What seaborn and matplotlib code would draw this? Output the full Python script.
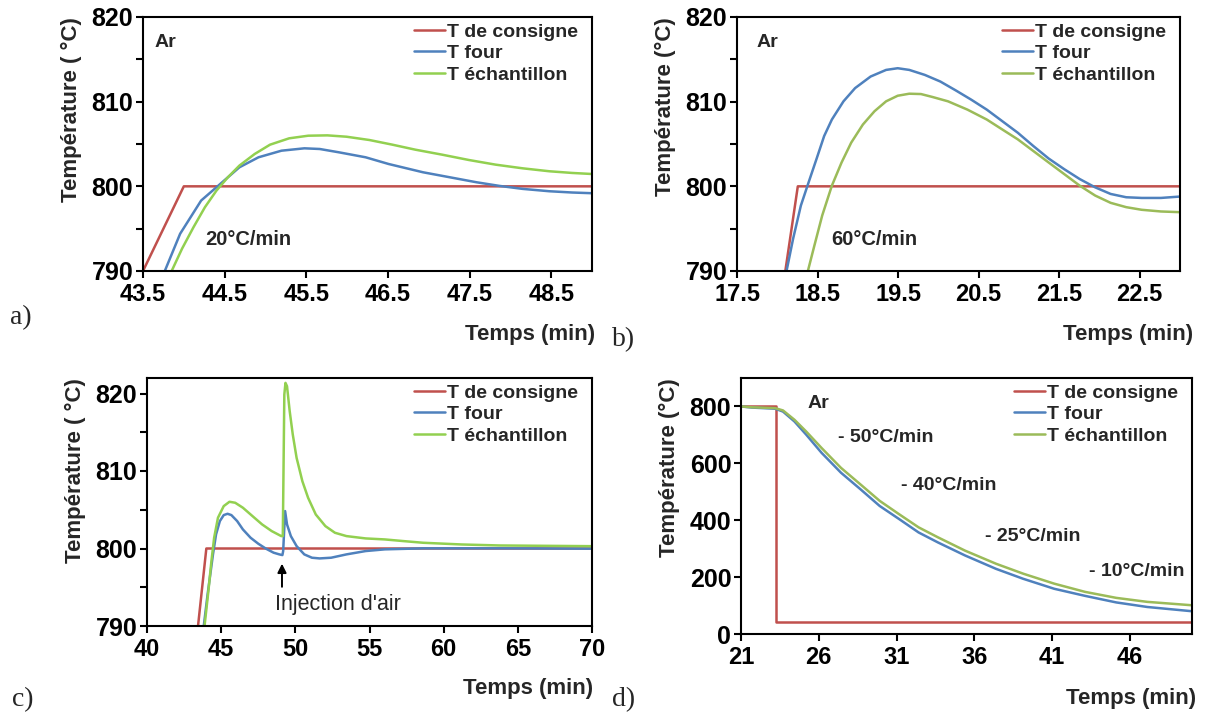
import numpy as np
import pandas as pd
import matplotlib
matplotlib.use("Agg")
import matplotlib.pyplot as plt
import seaborn as sns

# ---- data ----
# panel a : 20 C/min, Ar
a_cons_t = [43.5, 44.0, 49.0]
a_cons_T = [790, 800, 800]
a_four_t = [43.767, 43.955, 44.212, 44.470, 44.681, 44.915, 45.196, 45.477, 45.665, 45.899,
            46.227, 46.508, 46.930, 47.258, 47.586, 47.867, 48.149, 48.477, 48.758, 48.992]
a_four_T = [790, 794.40, 798.32, 800.48, 802.25, 803.43, 804.21, 804.49, 804.41, 804.02,
            803.43, 802.64, 801.66, 801.07, 800.48, 800.05, 799.70, 799.42, 799.27, 799.19]
a_ech_t = [43.851, 43.978, 44.119, 44.259, 44.400, 44.540, 44.681, 44.868, 45.056, 45.290, 45.524,
           45.759, 45.993, 46.274, 46.555, 46.836, 47.164, 47.492, 47.820, 48.149, 48.477, 48.758, 48.992]
a_ech_T = [790, 792.63, 795.18, 797.54, 799.50, 801.07, 802.45, 803.82, 804.92, 805.67, 805.98,
           806.02, 805.86, 805.47, 804.92, 804.33, 803.74, 803.11, 802.56, 802.13, 801.78, 801.58, 801.46]

# panel b : 60 C/min, Ar
b_cons_t = [18.10, 18.255, 23.0]
b_cons_T = [790, 800, 800]
b_four_t = [18.115, 18.197, 18.293, 18.389, 18.486, 18.582, 18.678, 18.822, 18.966, 19.159,
            19.351, 19.495, 19.639, 19.832, 20.024, 20.216, 20.409, 20.601, 20.793, 20.986,
            21.178, 21.370, 21.562, 21.755, 21.947, 22.139, 22.332, 22.524, 22.764, 22.995]
b_four_T = [790, 793.83, 797.73, 800.47, 803.20, 805.94, 807.89, 810.04, 811.60, 812.97,
            813.75, 813.95, 813.75, 813.16, 812.38, 811.33, 810.23, 809.06, 807.70, 806.33,
            804.77, 803.28, 802.03, 800.86, 799.88, 799.10, 798.71, 798.63, 798.63, 798.79]
b_ech_t = [18.380, 18.462, 18.558, 18.678, 18.798, 18.918, 19.063, 19.207, 19.351, 19.495,
           19.639, 19.784, 19.928, 20.120, 20.361, 20.601, 20.793, 20.986, 21.178, 21.370,
           21.562, 21.755, 21.947, 22.139, 22.332, 22.524, 22.764, 22.995]
b_ech_T = [790, 793.05, 796.56, 800.08, 802.81, 805.16, 807.30, 808.87, 810.04, 810.70,
           810.94, 810.90, 810.55, 810.04, 809.06, 807.89, 806.72, 805.55, 804.18, 802.81,
           801.45, 800.08, 798.91, 798.05, 797.54, 797.23, 797.03, 796.95]

# panel c : air injection
c_cons_t = [43.44, 44.0, 70.0]
c_cons_T = [790, 800, 800]
c_four_t = [43.827, 44.086, 44.267, 44.448, 44.655, 44.913, 45.172, 45.431, 45.689, 46.077,
            46.465, 46.982, 47.500, 48.017, 48.534, 48.922, 49.128, 49.180, 49.310, 49.439,
            49.698, 50.085, 50.603, 51.120, 51.637, 52.413, 53.447, 54.740, 56.033, 58.619,
            63.791, 69.997]
c_four_T = [790, 794.08, 796.66, 799.24, 801.82, 803.54, 804.31, 804.48, 804.31, 803.54,
            802.46, 801.39, 800.62, 799.98, 799.46, 799.24, 799.15, 799.67, 804.83, 803.11,
            801.60, 800.31, 799.24, 798.81, 798.72, 798.81, 799.24, 799.67, 799.89, 800.02,
            800.02, 799.98]
c_ech_t = [43.879, 44.138, 44.344, 44.526, 44.784, 45.172, 45.560, 45.948, 46.465, 47.111,
           47.758, 48.405, 49.051, 49.155, 49.258, 49.336, 49.439, 49.620, 49.827, 50.085,
           50.473, 50.861, 51.378, 52.025, 52.671, 53.447, 54.740, 56.033, 57.326, 58.619,
           61.205, 63.791, 69.997]
c_ech_T = [790, 794.51, 798.38, 801.39, 803.97, 805.47, 806.03, 805.90, 805.26, 804.18,
           803.11, 802.25, 801.60, 801.60, 819.87, 821.37, 820.94, 817.72, 814.71, 811.70,
           808.69, 806.54, 804.39, 802.89, 802.03, 801.60, 801.30, 801.17, 800.95, 800.74,
           800.52, 800.39, 800.30]

# panel d : cooling, Ar
d_cons_t = [21.0, 23.24, 23.24, 50.0]
d_cons_T = [800, 800, 43, 43]
d_four_t = [21.0, 21.7, 23.2, 23.7, 24.44, 25.19, 26.18, 27.43, 28.68, 29.92, 31.17, 32.42,
            33.66, 35.41, 37.40, 39.15, 41.14, 43.13, 45.13, 47.12, 50.0]
d_four_T = [800, 796, 792, 782, 747, 701, 637, 567, 509, 450, 404, 357,
            322, 276, 229, 194, 159, 134, 111, 95, 80]
d_ech_t = [21.0, 21.7, 23.2, 23.7, 24.44, 25.19, 26.18, 27.43, 28.68, 29.92, 31.17, 32.42,
           33.66, 35.41, 37.40, 39.15, 41.14, 43.13, 45.13, 47.12, 50.0]
d_ech_T = [800, 797, 794, 786, 753, 712, 654, 584, 526, 468, 421, 375,
           340, 293, 247, 212, 177, 148, 127, 113, 101]

labels = ["T de consigne", "T four", "T échantillon"]
red = "#C0504D"
blue = "#4F81BD"
green_bright = "#92D050"
green_olive = "#9BBB59"

sns.set_style("ticks")
plt.rcParams['font.family'] = ['Liberation Sans', 'DejaVu Sans']
plt.rcParams['font.weight'] = 'bold'

fig = plt.figure(figsize=(12.06, 7.15), dpi=100)
W, H = 1206, 715


def make_ax(l, r, t, b):
    return fig.add_axes([l / W, (H - b) / H, (r - l) / W, (b - t) / H])


def draw(ax, series, green, xlim, ylim, xticks, xticklabels, yticks, yticklabels, ylabel,
         xlab_dx=0.0):
    cols = [red, blue, green]
    for (t, T), c, lab in zip(series, cols, labels):
        sns.lineplot(x=t, y=T, ax=ax, color=c, lw=1.8, sort=False, estimator=None, label=lab)
    ax.set_xlim(*xlim)
    ax.set_ylim(*ylim)
    ax.set_xticks(xticks)
    ax.set_xticklabels(xticklabels, fontsize=17, fontweight='bold')
    ax.set_yticks(yticks)
    ax.set_yticklabels(yticklabels, fontsize=18, fontweight='bold')
    for s in ax.spines.values():
        s.set_visible(True)
        s.set_linewidth(1.5)
        s.set_color("black")
    ax.tick_params(direction='out', length=5, width=1.5, colors='black')
    ax.tick_params(axis='x', pad=4)
    ax.tick_params(axis='y', pad=2)
    ax.set_xlabel("Temps (min)", fontsize=16, fontweight='bold', loc='right')
    ax.xaxis.set_label_coords(1.0 + xlab_dx, -0.21)
    ax.xaxis.label.set_va('top')
    ax.set_ylabel(ylabel, fontsize=16, fontweight='bold', loc='top', labelpad=7)
    leg = ax.legend(loc='upper right', frameon=False, fontsize=14, handlelength=1.6,
                    handletextpad=0.1, labelspacing=0.2, borderaxespad=0.3,
                    bbox_to_anchor=(1.0, 1.03))
    for txt in leg.get_texts():
        txt.set_fontweight('bold')


def tick_lab(vals, step):
    return [str(v) if v % step == 0 else "" for v in vals]


# a)
ax = make_ax(143, 592, 17, 271)
draw(ax, [(a_cons_t, a_cons_T), (a_four_t, a_four_T), (a_ech_t, a_ech_T)], green_bright,
     (43.5, 49.0), (790, 820),
     [43.5, 44.5, 45.5, 46.5, 47.5, 48.5], ["43.5", "44.5", "45.5", "46.5", "47.5", "48.5"],
     [790, 795, 800, 805, 810, 815, 820], tick_lab([790, 795, 800, 805, 810, 815, 820], 10),
     "Température ( °C)", xlab_dx=3 / 449)
ax.text(0.025, 0.9, "Ar", transform=ax.transAxes, fontsize=14, fontweight='bold', va='center')
ax.text(44.26, 793.7, "20°C/min", fontsize=14.5, fontweight='bold', va='center')

# b)
ax = make_ax(737, 1180, 17, 271)
draw(ax, [(b_cons_t, b_cons_T), (b_four_t, b_four_T), (b_ech_t, b_ech_T)], green_olive,
     (17.5, 23.0), (790, 820),
     [17.5, 18.5, 19.5, 20.5, 21.5, 22.5], ["17.5", "18.5", "19.5", "20.5", "21.5", "22.5"],
     [790, 795, 800, 805, 810, 815, 820], tick_lab([790, 795, 800, 805, 810, 815, 820], 10),
     "Température (°C)", xlab_dx=13 / 443)
ax.text(0.045, 0.9, "Ar", transform=ax.transAxes, fontsize=14, fontweight='bold', va='center')
ax.text(18.67, 793.7, "60°C/min", fontsize=14.5, fontweight='bold', va='center')

# c)
ax = make_ax(147, 592, 378, 626)
draw(ax, [(c_cons_t, c_cons_T), (c_four_t, c_four_T), (c_ech_t, c_ech_T)], green_bright,
     (40, 70), (790, 822),
     [40, 45, 50, 55, 60, 65, 70], ["40", "45", "50", "55", "60", "65", "70"],
     [790, 795, 800, 805, 810, 815, 820], tick_lab([790, 795, 800, 805, 810, 815, 820], 10),
     "Température ( °C)", xlab_dx=1 / 445)
ax.annotate("", xy=(49.1, 798.4), xytext=(49.1, 794.7),
            arrowprops=dict(arrowstyle='-|>', color='black', lw=1.4, mutation_scale=13))
ax.text(48.6, 792.8, "Injection d'air", fontsize=15.5, fontweight='normal', va='center')

# d)
ax = make_ax(741, 1192, 378, 634)
draw(ax, [(d_cons_t, d_cons_T), (d_four_t, d_four_T), (d_ech_t, d_ech_T)], green_olive,
     (21, 50), (0, 900),
     [21, 26, 31, 36, 41, 46], ["21", "26", "31", "36", "41", "46"],
     [0, 200, 400, 600, 800], ["0", "200", "400", "600", "800"],
     "Température (°C)", xlab_dx=4 / 451)
ax.text(0.147, 0.9, "Ar", transform=ax.transAxes, fontsize=14, fontweight='bold', va='center')
for xx, yy, s in [(27.26, 691, "- 50°C/min"), (31.26, 523, "- 40°C/min"),
                  (36.7, 344, "- 25°C/min"), (43.4, 221, "- 10°C/min")]:
    ax.text(xx, yy, s, fontsize=14, fontweight='bold', va='center')

# panel letters
for x, y, s in [(10, 318, "a)"), (612, 340, "b)"), (12, 700, "c)"), (612, 700, "d)")]:
    fig.text(x / W, (H - y) / H, s, fontsize=20, family=['Liberation Serif'],
             fontweight='normal', va='center')

fig.savefig("out.png", dpi=100)
